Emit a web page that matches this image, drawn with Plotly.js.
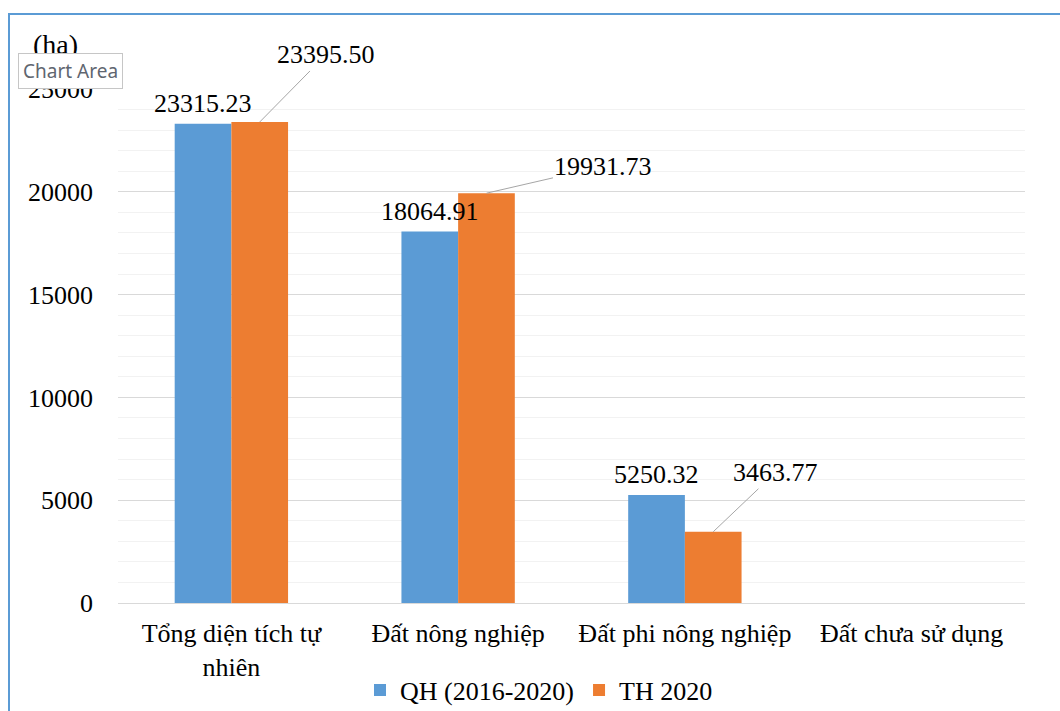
<!DOCTYPE html>
<html>
<head>
<meta charset="utf-8">
<script src="https://cdn.plot.ly/plotly-3.0.1.min.js"></script>
<style>
  html, body { margin: 0; padding: 0; background: #fff; overflow: hidden; }
  #chart { position: absolute; left: 0; top: 0; width: 1060px; height: 711px; }
  #frame {
    position: absolute; left: 8px; top: 13px; width: 1100px; height: 760px;
    border-top: 2px solid #5B9BD5; border-left: 2px solid #5B9BD5;
    pointer-events: none;
  }
</style>
</head>
<body>
<div id="chart"></div>
<div id="frame"></div>
<script>
// Land use: planned (2016-2020) vs. actual 2020, hectares
const categories = ['Tổng diện tích tự<br>nhiên', 'Đất nông nghiệp', 'Đất phi nông nghiệp', 'Đất chưa sử dụng'];
const planned = [23315.23, 18064.91, 5250.32, null];
const actual  = [23395.50, 19931.73, 3463.77, null];
const seriesNames = ['QH (2016-2020)', 'TH 2020'];
const yTicks = [0, 5000, 10000, 15000, 20000, 25000];

const serif = "'Liberation Serif', 'Times New Roman', 'DejaVu Serif', serif";
const FS = 26;
const fmt = v => v.toFixed(2);

const tracePlanned = {
  type: 'bar', name: seriesNames[0], x: categories, y: planned,
  marker: { color: '#5B9BD5' }, hoverinfo: 'x+y'
};
const traceActual = {
  type: 'bar', name: seriesNames[1], x: categories, y: actual,
  marker: { color: '#ED7D31' }, hoverinfo: 'x+y'
};

// plot-area geometry in pixels, used to place the free-floating labels
const M = { l: 118, r: 35, t: 89, b: 108, autoexpand: false };
const W = 1060, H = 711;
const pw = W - M.l - M.r, ph = H - M.t - M.b;
const px = x => (x - M.l) / pw;
const py = y => 1 - (y - M.t) / ph;

const annotations = [];
// value labels sitting on top of the first series
planned.forEach((v, i) => {
  if (v == null) return;
  annotations.push({
    xref: 'x', yref: 'y', x: i - 0.125, y: v, yanchor: 'bottom', yshift: 4,
    text: fmt(v), showarrow: false,
    font: { family: serif, size: FS, color: '#000' }
  });
});
// offset callouts for the second series, with a thin leader line to each bar top
const calloutOffsets = [[66, -67], [117, -27], [62, -59]];
actual.forEach((v, i) => {
  if (v == null) return;
  annotations.push({
    xref: 'x', yref: 'y', x: i + 0.125, y: v,
    text: fmt(v), showarrow: true, arrowhead: 0, arrowwidth: 1,
    arrowcolor: '#a6a6a6', standoff: 0, startstandoff: 0,
    ax: calloutOffsets[i][0], ay: calloutOffsets[i][1],
    font: { family: serif, size: FS, color: '#000' }
  });
});
// unit label
annotations.push({
  xref: 'paper', yref: 'paper', x: px(31), y: py(44),
  xanchor: 'left', yanchor: 'middle', text: '(ha)', showarrow: false,
  font: { family: serif, size: 28, color: '#000' }
});
// hover tooltip box
annotations.push({
  xref: 'paper', yref: 'paper', x: px(18), y: py(71),
  xanchor: 'left', yanchor: 'middle', text: 'Chart Area', showarrow: false,
  bgcolor: '#ffffff', bordercolor: '#c6c6c6', borderwidth: 1, borderpad: 4,
  font: { family: "'Noto Sans', 'Open Sans', sans-serif", size: 19, color: '#5f6670' }
});

const layout = {
  width: W, height: H,
  margin: M,
  paper_bgcolor: 'rgba(0,0,0,0)', plot_bgcolor: 'rgba(0,0,0,0)',
  font: { family: serif, color: '#000' },
  barmode: 'group', bargap: 0.5, bargroupgap: 0,
  showlegend: true,
  legend: {
    orientation: 'h', x: px(539), xanchor: 'center', y: py(690), yanchor: 'middle',
    font: { family: serif, size: FS, color: '#000' },
    traceorder: 'normal'
  },
  xaxis: {
    type: 'category', showgrid: false, showline: false, ticks: '',
    tickfont: { family: serif, size: FS, color: '#000' },
    ticklabelstandoff: 12, fixedrange: true
  },
  yaxis: {
    range: [0, 25000], tickvals: yTicks, ticktext: yTicks.map(String),
    showgrid: true, gridcolor: '#d9d9d9', gridwidth: 1,
    zeroline: true, zerolinecolor: '#d9d9d9', zerolinewidth: 1,
    minor: { dtick: 1000, showgrid: true, gridcolor: '#f2f2f2', gridwidth: 1 },
    showline: false, ticks: '',
    tickfont: { family: serif, size: FS, color: '#000' },
    ticklabelstandoff: 24, fixedrange: true
  },
  annotations: annotations
};

Plotly.newPlot('chart', [tracePlanned, traceActual], layout, { displayModeBar: false, staticPlot: true });
</script>
</body>
</html>
